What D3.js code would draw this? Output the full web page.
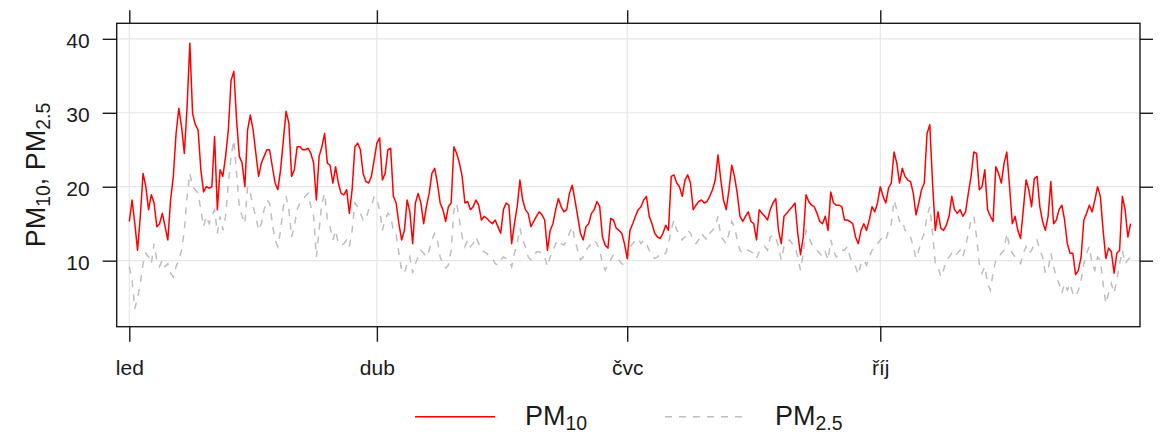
<!DOCTYPE html>
<html>
<head>
<meta charset="utf-8">
<script src="https://cdn.jsdelivr.net/npm/d3@7"></script>
<style>
  body { margin: 0; background: #fff; }
  svg { display: block; }
  text { font-family: "Liberation Sans", Arial, sans-serif; fill: #1a1a1a; }
</style>
</head>
<body>
<svg id="chart" width="1160" height="437"></svg>
<script>
// Daily mean concentrations for one year, starting on 1 January
const startDate = "2019-01-01";

const pm10 = [
  15.3, 18.2, 15, 11.4, 16, 21.8, 20, 16.9, 18.9, 17.8, 14.6, 15, 16.4, 14.6, 12.8, 18.2, 21.4, 27.2, 30.6, 28.1,
  24.5, 30.8, 39.4, 29.9, 28.4, 27.7, 22.3, 19.3, 20, 19.8, 20, 26.8, 16.9,
  22.3, 21.4, 24.1, 27.7, 34.4, 35.6, 29, 24.1, 23.2, 20, 27.7, 29.7, 27.7, 24.5, 21.4, 23.2, 24.1, 25, 25, 22.7,
  20.5, 19.6, 22.3, 26.3, 30.2, 28.6, 21.4, 22.3, 25.4, 25.4, 25, 25, 25.2, 24.5, 23.2, 18.2, 24.1,
  25.4, 27.2, 23.2, 22.9, 20.5, 22.7, 20.5, 19.1, 18.9, 19.6, 16.4, 19.6, 25.4, 25.9, 25, 21.8, 20.7, 20.5, 21.4, 23.6,
  25.9, 26.6, 20.9, 21.8, 25, 25.2, 18.7, 17.8, 15, 12.8, 14.1, 18.2, 16.6, 12.3, 17.8, 19.1,
  17.8, 15, 17.3, 19.1, 21.8, 22.5, 20.5, 17.8, 16.9, 15.3, 17.3, 17.8, 25.4, 24.5, 23.2, 21.4, 17.8, 18, 16.9, 17.3,
  18.2, 17.5, 15.5, 16, 15.7, 15.3, 15, 15.5, 14.6, 13.7, 16.9, 17.8, 17.5, 12.3, 15, 17.3,
  20.9, 18.2, 16.9, 16.4, 14.6, 15.3, 16, 16.6, 16.2, 15.5, 11.4, 14.1, 15, 16.9, 18.4, 17.3, 16.6, 16.9, 19.1, 20.2,
  18.2, 16, 13.7, 12.8, 14.6, 15, 16.4, 16.9, 18, 17.3, 13.2, 12.1, 11.7, 15.7, 15.5, 14.4, 14.1,
  13.7, 12.3, 10.3, 14.1, 15, 16, 16.9, 17.3, 18.2, 18.7, 16, 15, 13.7, 13.2, 13, 13.7, 14.8, 14.1, 21.4, 21.6,
  20.5, 20, 18.7, 20.9, 21.6, 20.5, 16.9, 17.5, 18, 18.2, 17.8, 18, 18.7, 19.6, 20.9, 24.3,
  21, 18.2, 16.9, 19.6, 22.9, 21.4, 19.1, 16, 15.3, 16, 16.6, 15.3, 15, 12.8, 16.9, 16.4, 16, 15.5, 16.9, 17.8,
  18.4, 14.1, 12.3, 16, 16.4, 16.9, 17.3, 17.8, 13.7, 10.8, 13.2, 18.9, 18, 17.5, 17.3, 16.4, 15.3,
  15, 16, 14.1, 19.3, 17.8, 17.5, 17.5, 17.3, 15.5, 15.5, 15.3, 15, 13.2, 12.3, 14.1, 15, 14.1, 15.5, 17.3, 16.6,
  17.8, 20, 18.7, 17.8, 19.8, 20.5, 24.7, 23.2, 20.5, 22.5, 21.4, 20.9, 20.7, 19.1, 16.2, 17.8,
  19.6, 20.5, 27.2, 28.4, 20.5, 14.1, 16.6, 14.4, 14.1, 14.8, 16, 18.7, 16.9, 16.4, 16.9, 16, 16.6, 19.1, 21.4, 24.7,
  24.5, 19.6, 20, 22.3, 16.9, 16, 15.3, 22.7, 21.8, 20.5, 23.2, 24.7, 20, 15, 16, 14.1, 13,
  16.9, 20.9, 19.6, 17.3, 21.1, 21.4, 17.3, 15.3, 14.1, 16, 20.7, 15, 15.5, 16.9, 17.5, 15.5, 12.3, 11, 11, 8.1,
  8.7, 10.5, 15.5, 16.4, 17.5, 16.6, 18.2, 20, 18.7, 14.1, 10.3, 11.7, 11.2, 8.3, 11, 11.4, 18.7, 16.9, 13.2, 15
];

const pm25 = [
  9.2, 7.4, 3.5, 5, 6.9, 9.6, 11, 10.5, 9.6, 12.3, 10.1, 9.2, 10.1, 9.2, 9.6, 8.3, 7.8, 9.2, 10.1, 11.4,
  14.1, 18.7, 21.8, 20, 19.6, 19.1, 16.9, 14.6, 16, 15, 16, 16.9, 13.7,
  16, 14.1, 16, 20.5, 24.1, 26.3, 21.8, 17.3, 16, 15, 20, 19.1, 17.3, 16, 14.1, 15, 16.9, 18.2, 17.8, 15,
  12.8, 11.9, 14.1, 17.3, 18.7, 16.9, 13.2, 14.6, 16.9, 17.8, 18.2, 18.7, 19.1, 17.3, 16, 10.5, 14.1,
  17.8, 19.1, 15.5, 14.6, 12.8, 14.1, 12.3, 12.1, 12.3, 12.8, 11.9, 14.1, 17.8, 17.3, 16.4, 15.5, 15.5, 16.9, 17.3, 18.7,
  18.2, 16.9, 14.1, 15.5, 16.4, 16, 14.1, 13.7, 11, 8.7, 8.3, 9.6, 10.5, 8.3, 9.6, 10.5,
  11.4, 11, 10.5, 11.4, 12.8, 13.7, 12.8, 10.5, 9.6, 9, 9.4, 11.4, 16.9, 17.8, 15.5, 13.2, 11.9, 12.8, 11.9, 12.3,
  13.2, 12.3, 11.4, 11.2, 11, 10.5, 10.3, 9.6, 9.4, 10.1, 10.5, 10.3, 10.1, 9.2, 11, 12.3,
  14.4, 12.8, 11.9, 10.5, 10.1, 10.5, 11.2, 11.2, 11, 10.5, 9.2, 10.5, 11.4, 12.3, 12.8, 12.3, 12.1, 12.8, 13.7, 14.6,
  12.8, 11.4, 10.1, 10.5, 11.4, 11.9, 12.3, 12.8, 12.3, 11.4, 9.6, 8.7, 9.6, 10.1, 10.8, 10.5, 10.1,
  9.6, 9.4, 9.9, 11.9, 12.3, 12.8, 13, 12.3, 12.8, 12.3, 11.4, 10.8, 10.3, 10.5, 11, 10.8, 11, 12.3, 14.1, 15.5,
  14.1, 13.7, 12.8, 13.2, 14.1, 13.7, 12.8, 12.3, 12.8, 13.7, 13.2, 12.8, 13.7, 14.1, 14.6, 16,
  13.2, 12.8, 12.3, 13.7, 15.3, 14.6, 12.8, 11.4, 11, 11.4, 11.4, 11.2, 11, 10.3, 11.2, 11.4, 11.9, 11.4, 13.2, 13.5,
  13.2, 11.9, 10.1, 11.9, 12.3, 12.8, 12.3, 11.9, 10.5, 8.7, 11, 14.1, 13.2, 12.3, 11.7, 11.4, 11,
  10.5, 11.2, 10.1, 12.8, 11.4, 10.5, 11, 11.4, 11.4, 11.9, 10.5, 9.6, 9.2, 8.1, 9.6, 10.1, 9.4, 10.5, 11.4, 11.9,
  12.3, 12.8, 13.2, 12.8, 14.1, 15, 18.2, 16.9, 15.3, 15.5, 14.1, 13.7, 13.2, 11.9, 10.3, 11.4,
  12.8, 13.7, 16, 17.3, 13.7, 9.6, 9.2, 7.8, 8.7, 10.1, 10.5, 11, 10.5, 11, 11.4, 10.5, 11.9, 13.7, 15.5, 16,
  13.2, 9.6, 8.3, 9.2, 6.9, 6, 8.3, 10.1, 10.5, 11, 11.4, 13.7, 11.9, 11, 10.5, 10.1, 9.6,
  11, 11.9, 11, 11.4, 12.3, 12.8, 11.4, 10.5, 8.3, 8.7, 11, 9.2, 7.8, 6.9, 5.6, 6.9, 6, 6.9, 5.6, 5.1,
  6, 7.4, 9.6, 11, 11.9, 9.6, 8.7, 10.5, 10.1, 6.9, 4.2, 5.6, 6.9, 5.6, 7.4, 9.6, 11.4, 9.6, 10.1, 10.5
];

const monthTicks = ["2019-01-01", "2019-04-01", "2019-07-01", "2019-10-01"];
const monthLabels = ["led", "dub", "čvc", "říj"];
const yTicks = [10, 20, 30, 40];

const parse = d3.utcParse("%Y-%m-%d");
const t0 = parse(startDate);
const rows = pm10.map((v, i) => ({ date: d3.utcDay.offset(t0, i), pm10: v, pm25: pm25[i] }));
const tickDates = monthTicks.map(parse);

// Panel geometry
const P = { left: 116.7, right: 1140, top: 23.3, bottom: 326.7 };
const tickFont = 21, labelFont = 27;

const x = d3.scaleUtc()
  .domain([d3.utcHour.offset(t0, -110), d3.utcHour.offset(t0, 8818)])
  .range([P.left, P.right]);
const y = d3.scaleLinear().domain([1.07, 42.1]).range([P.bottom, P.top]);

const svg = d3.select("#chart");

// Reference grid
const grid = svg.append("g").attr("stroke", "#e6e6e6").attr("stroke-width", 1.2);
grid.selectAll("line.h").data(yTicks).join("line")
  .attr("x1", P.left).attr("x2", P.right)
  .attr("y1", d => y(d)).attr("y2", d => y(d));
grid.selectAll("line.v").data(tickDates).join("line")
  .attr("y1", P.top).attr("y2", P.bottom)
  .attr("x1", d => x(d)).attr("x2", d => x(d));

// Series, clipped to the panel
svg.append("clipPath").attr("id", "panel-clip")
  .append("rect").attr("x", P.left).attr("y", P.top)
  .attr("width", P.right - P.left).attr("height", P.bottom - P.top);

const series = svg.append("g").attr("clip-path", "url(#panel-clip)");
series.append("path").datum(rows)
  .attr("fill", "none").attr("stroke", "#bebebe").attr("stroke-width", 1.5)
  .attr("stroke-dasharray", "7,7")
  .attr("d", d3.line().x(d => x(d.date)).y(d => y(d.pm25)));
series.append("path").datum(rows)
  .attr("fill", "none").attr("stroke", "#ff0000").attr("stroke-width", 1.5)
  .attr("stroke-linejoin", "round")
  .attr("d", d3.line().x(d => x(d.date)).y(d => y(d.pm10)));

// Axes
function styleAxis(g) {
  g.select(".domain").remove();
  g.selectAll(".tick line").attr("stroke", "#1a1a1a").attr("stroke-width", 1.4);
  g.selectAll(".tick text").attr("fill", "#1a1a1a")
    .style("font-size", tickFont + "px")
    .style("font-family", '"Liberation Sans", Arial, sans-serif');
}
function dropLabels(g) { g.selectAll(".tick text").remove(); }

svg.append("g").attr("transform", `translate(${P.left},0)`)
  .call(d3.axisLeft(y).tickValues(yTicks).tickSize(14).tickPadding(13).tickFormat(d3.format("d")))
  .call(styleAxis)
  .call(g => g.selectAll(".tick text").attr("dy", "0.42em"));

svg.append("g").attr("transform", `translate(${P.right},0)`)
  .call(d3.axisRight(y).tickValues(yTicks).tickSize(13))
  .call(styleAxis).call(dropLabels);

svg.append("g").attr("transform", `translate(0,${P.top})`)
  .call(d3.axisTop(x).tickValues(tickDates).tickSize(13))
  .call(styleAxis).call(dropLabels);

svg.append("g").attr("transform", `translate(0,${P.bottom})`)
  .call(d3.axisBottom(x).tickValues(tickDates).tickSize(15).tickPadding(18)
    .tickFormat((d, i) => monthLabels[i]))
  .call(styleAxis);

// Panel border
svg.append("rect")
  .attr("x", P.left).attr("y", P.top)
  .attr("width", P.right - P.left).attr("height", P.bottom - P.top)
  .attr("fill", "none").attr("stroke", "#1a1a1a").attr("stroke-width", 1.4);

// Text with subscripts: each part is [main text, subscript]
function subLabel(sel, parts) {
  let lowered = false;
  parts.forEach(([txt, sub]) => {
    const main = sel.append("tspan").text(txt);
    if (lowered) main.attr("dy", "-0.18em");
    lowered = false;
    if (sub) {
      sel.append("tspan").attr("dy", "0.25em").style("font-size", "0.72em").text(sub);
      lowered = true;
    }
  });
}

const ylab = svg.append("text")
  .attr("transform", `translate(45,${(P.top + P.bottom) / 2}) rotate(-90)`)
  .attr("text-anchor", "middle")
  .style("font-size", labelFont + "px");
subLabel(ylab, [["PM", "10"], [", PM", "2.5"]]);

// Legend
const legend = [
  { name: ["PM", "10"], color: "#ff0000", dash: null, x1: 415, x2: 495, tx: 525 },
  { name: ["PM", "2.5"], color: "#bebebe", dash: "7,7", x1: 665, x2: 742, tx: 775 }
];
const lg = svg.append("g");
legend.forEach(item => {
  lg.append("line")
    .attr("x1", item.x1).attr("x2", item.x2).attr("y1", 416.7).attr("y2", 416.7)
    .attr("stroke", item.color).attr("stroke-width", 1.5)
    .attr("stroke-dasharray", item.dash);
  const t = lg.append("text").attr("x", item.tx).attr("y", 425).style("font-size", labelFont + "px");
  subLabel(t, [item.name]);
});
</script>
</body>
</html>
